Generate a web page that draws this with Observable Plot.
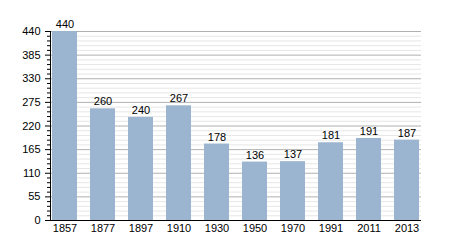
<!DOCTYPE html>
<html>
<head>
<meta charset="utf-8">
<script src="https://cdn.jsdelivr.net/npm/d3@7"></script>
<script src="https://cdn.jsdelivr.net/npm/@observablehq/plot@0.6"></script>
<style>
body { margin: 0; background: #fff; }
</style>
</head>
<body>
<div id="chart"></div>
<script>
const years = ["1857", "1877", "1897", "1910", "1930", "1950", "1970", "1991", "2011", "2013"];
const population = [440, 260, 240, 267, 178, 136, 137, 181, 191, 187];
const majorTicks = [0, 55, 110, 165, 220, 275, 330, 385, 440];
const minorTicks = d3.range(0, 441, 11).filter(v => v % 55 !== 0);

const data = years.map((y, i) => ({year: y, value: population[i]}));

const chart = Plot.plot({
  width: 450,
  height: 250,
  marginLeft: 50,
  marginRight: 29,
  marginTop: 31,
  marginBottom: 30,
  style: {fontFamily: "Liberation Sans, Arial, sans-serif", fontSize: "11px", color: "#000", background: "#fff"},
  x: {domain: years, paddingInner: 0.34, paddingOuter: 0, insetLeft: 1},
  y: {domain: [0, 440], label: null},
  marks: [
    Plot.gridY(minorTicks, {stroke: "#e6e6e6", strokeOpacity: 1}),
    Plot.gridY(majorTicks, {stroke: "#b0b0b0", strokeOpacity: 1}),
    Plot.barY(data, {x: "year", y: "value", fill: "#9bb4cf"}),
    Plot.text(data, {x: "year", y: "value", text: d => String(d.value), dy: -7, fill: "#000", fontSize: 11}),
    Plot.axisY(minorTicks, {tickSize: 3, text: null, stroke: "#000", label: null}),
    Plot.axisY(majorTicks, {tickSize: 5, tickPadding: 5, stroke: "#000", label: null, fill: "#000"}),
    Plot.axisX({tickSize: 0, tickPadding: 4, label: null, fill: "#000"}),
    Plot.ruleY([0], {stroke: "#000", strokeWidth: 1.2}),
    Plot.frame({anchor: "left", stroke: "#000"})
  ]
});
document.getElementById("chart").appendChild(chart);
</script>
</body>
</html>
